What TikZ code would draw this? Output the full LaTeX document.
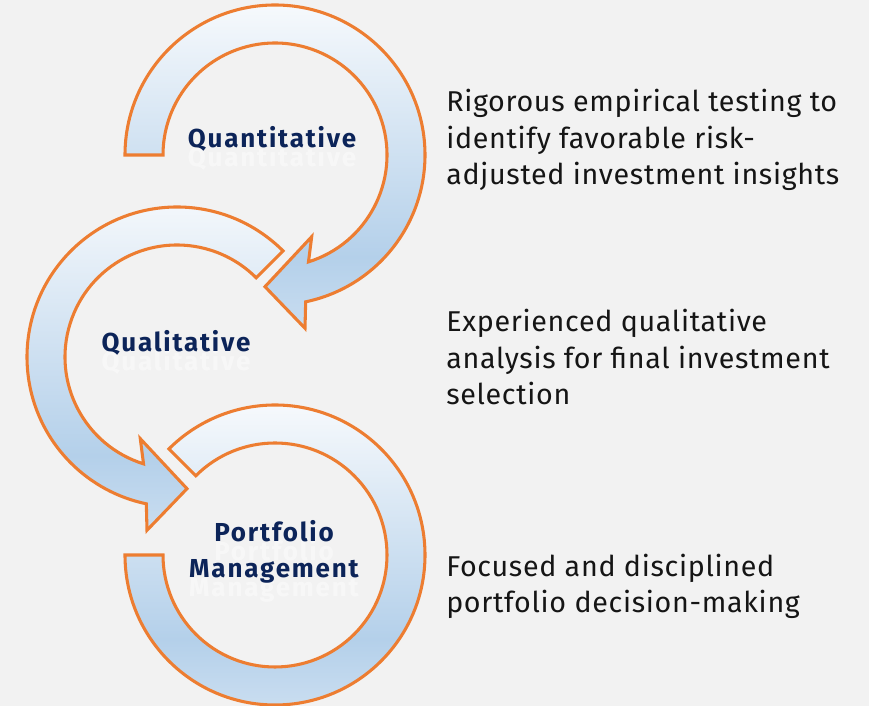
\documentclass[tikz,border=0pt]{standalone}
\usepackage{fontspec}
\setmainfont{Fira Sans}
\definecolor{bg}{HTML}{F2F2F2}
\definecolor{arrline}{HTML}{ED7D31}
\definecolor{navy}{HTML}{0C2459}
\definecolor{bodytext}{HTML}{151515}
\definecolor{shTop}{HTML}{F6F9FC}
\definecolor{shMid}{HTML}{B4D0EA}
\definecolor{shBot}{HTML}{C9DDF0}
\pgfdeclareverticalshading{arrshade}{100bp}{color(0bp)=(shBot); color(25bp)=(shBot); color(36bp)=(shMid); color(75bp)=(shTop); color(100bp)=(shTop)}
\begin{document}
\begin{tikzpicture}[x=0.75pt,y=0.75pt,
  circarrow/.style={shade, shading=arrshade, draw=arrline, line width=2.3pt, line join=miter},
  lbl/.style={font=\fontsize{19.5}{27}\selectfont\bfseries\addfontfeatures{LetterSpace=7}, text=navy, align=center, inner sep=0pt},
  lblshadow/.style={lbl, text=white, opacity=0.45},
  desc/.style={font=\fontsize{21.5}{27.5}\selectfont\addfontfeatures{LetterSpace=2.4}, text=bodytext, align=left, inner sep=0pt, anchor=base west}]
\fill[bg] (0,0) rectangle (869,706);
\useasboundingbox (0,0) rectangle (869,706);
\coordinate (c1) at (275,551);
\coordinate (c2) at (177,349);
\coordinate (c3) at (275,151);
% arrow 1 (Quantitative)
\begin{scope}[shift={(c1)}]
\path[circarrow] (180:150) arc[start angle=180,end angle=-78.2,radius=150]
  -- (30,-173.3) -- (-10,-131.7) -- (36.7,-81.7) -- (-72.6:112)
  arc[start angle=-72.6,end angle=180,radius=112] -- cycle;
\end{scope}
% arrow 2 (Qualitative)
\begin{scope}[shift={(c2)}]
\path[circarrow] (45:150) arc[start angle=45,end angle=258.2,radius=150]
  -- (-30,-173.3) -- (10,-131.7) -- (-36.7,-81.7) -- (252.6:112)
  arc[start angle=252.6,end angle=45,radius=112] -- cycle;
\end{scope}
% ring 3 (Portfolio Management)
\begin{scope}[shift={(c3)}]
\path[circarrow] (180:150) arc[start angle=180,end angle=495,radius=150]
  -- (495:112) arc[start angle=495,end angle=180,radius=112] -- cycle;
\end{scope}
% labels with faint reflections
\node[lblshadow, anchor=base] (quantr) at (272,539) {Quantitative};
\node[lbl, anchor=base] (quant) at (272,558) {Quantitative};
\node[lblshadow, anchor=base] (qualr) at (176,335) {Qualitative};
\node[lbl, anchor=base] (qual) at (176,354) {Qualitative};
\node[lblshadow, anchor=base] (pmr) at (274,109) {Portfolio\\Management};
\node[lbl, anchor=base] (pm) at (274,128) {Portfolio\\Management};
% descriptions (base anchor = last line)
\node[desc] (d1) at (446,521) {Rigorous empirical testing to\\identify favorable risk-\\adjusted investment insights};
\node[desc] (d2) at (446,301) {Experienced qualitative\\analysis for final investment\\selection};
\node[desc] (d3) at (446,93) {Focused and disciplined\\portfolio decision-making};
\end{tikzpicture}
\end{document}
